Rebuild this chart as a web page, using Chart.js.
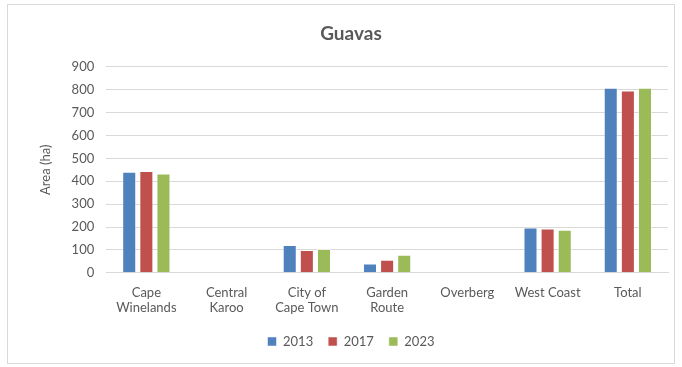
<!DOCTYPE html>
<html>
<head>
<meta charset="utf-8">
<script src="https://cdn.jsdelivr.net/npm/chart.js@4"></script>
<style>
    html, body { margin: 0; padding: 0; background: #fff; }
    #wrap { position: relative; width: 682px; height: 367px; }
    #frame { position: absolute; left: 7px; top: 4px; width: 668px; height: 360px; border: 1px solid #d9d9d9; box-sizing: border-box; }
    canvas { position: absolute; left: 0; top: 0; }
</style>
</head>
<body>
<div id="wrap">
    <div id="frame"></div>
    <canvas id="chart" width="682" height="367"></canvas>
</div>
<script>
'use strict';

// Guava area per district, hectares
const regions = [['Cape', 'Winelands'], ['Central', 'Karoo'], ['City of', 'Cape Town'], ['Garden', 'Route'], 'Overberg', 'West Coast', 'Total'];
const years = ['2013', '2017', '2023'];
const area2013 = [441, 0, 122, 41, 0, 198, 809];
const area2017 = [445, 0, 100, 57, 0, 193, 797];
const area2023 = [434, 0, 104, 79, 0, 188, 809];
const yTicks = [0, 100, 200, 300, 400, 500, 600, 700, 800, 900];

const colors = ['#4f81bd', '#c0504d', '#9bbb59'];
const textColor = '#595959';
const fontFamily = 'Lato, "Open Sans", sans-serif';

const ctx = document.getElementById('chart').getContext('2d');

new Chart(ctx, {
    type: 'bar',
    data: {
        labels: regions,
        datasets: [area2013, area2017, area2023].map((values, i) => ({
            label: years[i],
            data: values,
            backgroundColor: colors[i],
            borderColor: 'rgba(255,255,255,0.5)',
            borderWidth: 1,
            categoryPercentage: 0.64,
            barPercentage: 0.82
        }))
    },
    options: {
        responsive: false,
        animation: false,
        layout: { padding: { left: 34, right: 14, top: 18, bottom: 9 } },
        plugins: {
            title: {
                display: true,
                text: 'Guavas',
                color: textColor,
                font: { family: fontFamily, size: 19, weight: 'bold' },
                padding: { top: 4, bottom: 22 }
            },
            legend: {
                position: 'bottom',
                labels: {
                    color: textColor,
                    font: { family: fontFamily, size: 13 },
                    boxWidth: 9,
                    boxHeight: 9,
                    padding: 15
                }
            },
            tooltip: { enabled: false }
        },
        scales: {
            x: {
                grid: { display: false },
                border: { color: '#d9d9d9' },
                ticks: {
                    color: textColor,
                    font: { family: fontFamily, size: 13 },
                    maxRotation: 0,
                    autoSkip: false,
                    padding: 4
                }
            },
            y: {
                min: 0,
                max: 900,
                afterBuildTicks: (axis) => { axis.ticks = yTicks.map(v => ({ value: v })); },
                grid: { color: '#d9d9d9', lineWidth: 1, drawTicks: false },
                border: { display: false },
                ticks: {
                    color: textColor,
                    font: { family: fontFamily, size: 13 },
                    padding: 12
                },
                title: {
                    display: true,
                    text: 'Area (ha)',
                    color: textColor,
                    font: { family: fontFamily, size: 13 },
                    padding: { bottom: 6 }
                }
            }
        }
    }
});
</script>
</body>
</html>
